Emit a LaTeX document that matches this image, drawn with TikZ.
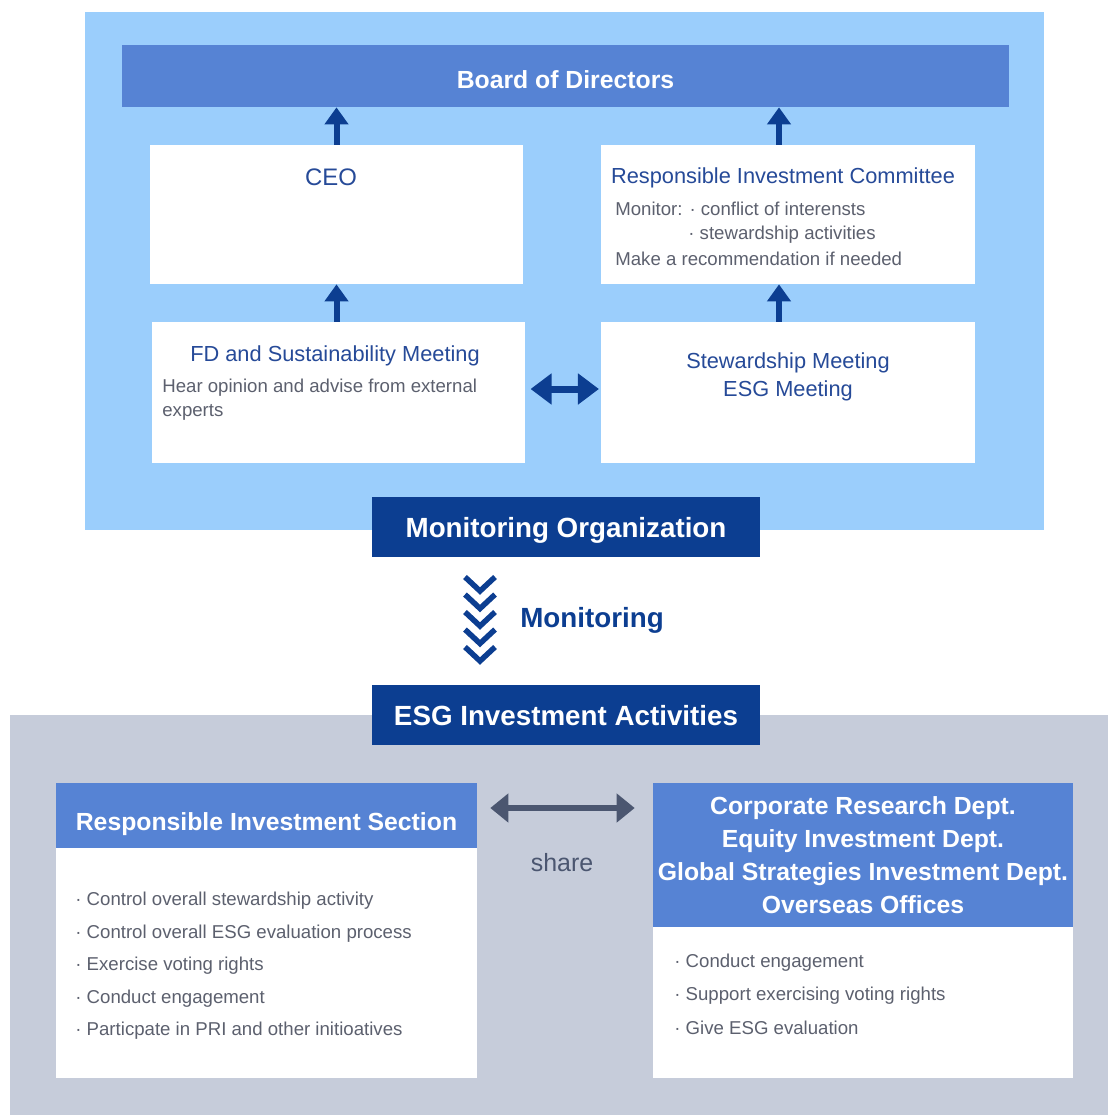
\documentclass[tikz,border=0pt]{standalone}
\usepackage{fontspec}
\setmainfont{Liberation Sans}
\usetikzlibrary{positioning, arrows.meta, calc}

\definecolor{skyback}{RGB}{155,206,252}
\definecolor{greyback}{RGB}{198,204,218}
\definecolor{midblue}{RGB}{86,131,212}
\definecolor{navy}{RGB}{12,62,145}
\definecolor{titleblue}{RGB}{38,74,152}
\definecolor{bodygrey}{RGB}{92,96,110}
\definecolor{slate}{RGB}{75,86,112}

\begin{document}
\begin{tikzpicture}[x=0.02cm, y=-0.02cm,
    panel/.style={rectangle, fill=white, inner sep=0pt},
    bar/.style={rectangle, fill=midblue, inner sep=0pt, text=white, align=center, text depth=0pt, font=\fontsize{14.1}{18.7}\selectfont\bfseries},
    banner/.style={rectangle, fill=navy, inner sep=0pt, text=white, text depth=0pt, font=\fontsize{15.8}{19}\selectfont\bfseries},
    ttl/.style={inner sep=0pt, text=titleblue, font=\fontsize{12.4}{15}\selectfont},
    txt/.style={inner sep=0pt, anchor=west, text=bodygrey, font=\fontsize{10.6}{13}\selectfont},
    uparrow/.style={navy, line width=0.12cm, -{Triangle[width=0.46cm, length=0.34cm]}},
    twoway/.style={navy, line width=0.14cm, {Triangle[width=0.6cm, length=0.42cm]}-{Triangle[width=0.6cm, length=0.42cm]}, shorten <=3pt, shorten >=1pt},
    sharearrow/.style={slate, line width=0.12cm, {Triangle[width=0.56cm, length=0.36cm]}-{Triangle[width=0.56cm, length=0.36cm]}, shorten <=0.26cm, shorten >=0.36cm},
    chevron/.style={navy, line width=0.11cm, line join=miter},
]
\useasboundingbox (0,0) rectangle (1108,1115);

% Backgrounds
\fill[skyback] (85,12) rectangle (1044,530);
\fill[greyback] (10,715) rectangle (1108,1115);

% Monitoring organization
\node (board) [bar, text height=13.7pt, minimum width=17.74cm, minimum height=1.24cm] at (565.5,76) {Board of Directors};
\node (ceo) [panel, minimum width=7.46cm, minimum height=2.78cm] at (336.5,214.5) {};
\node (ric) [panel, minimum width=7.48cm, minimum height=2.78cm] at (788,214.5) {};
\node (fdmeet) [panel, minimum width=7.46cm, minimum height=2.82cm] at (338.5,392.5) {};
\node (stewmeet) [panel, minimum width=7.48cm, minimum height=2.82cm] at (788,392.5) {};

\node (ceottl) [ttl, font=\fontsize{13.6}{16}\selectfont] at (331,177) {CEO};
\node (ricttl) [ttl] at (783,178) {Responsible Investment Committee};
\node (ric1) [txt] at (615,209) {Monitor: · conflict of interensts};
\node (ric2) [txt] at (688,235) {· stewardship activities};
\node (ric3) [txt] at (615,259) {Make a recommendation if needed};
\node (fdttl) [ttl] at (335,356) {FD and Sustainability Meeting};
\node (fd1) [txt] at (162,388) {Hear opinion and advise from external};
\node (fd2) [txt] at (162,412) {experts};
\node (stewttl) [ttl] at (788,363) {Stewardship Meeting};
\node (esgttl) [ttl] at (788,391) {ESG Meeting};

\draw [uparrow] (ceo.north) -- (ceo.north |- board.south);
\draw [uparrow] ([xshift=-0.18cm]ric.north) -- ([xshift=-0.18cm]ric.north |- board.south);
\draw [uparrow] (fdmeet.north -| ceo.north) -- (ceo.south);
\draw [uparrow] ([xshift=-0.18cm]stewmeet.north) -- ([xshift=-0.18cm]ric.south);
\draw [twoway] ([yshift=0.07cm]fdmeet.east) -- ([yshift=0.07cm]fdmeet.east -| stewmeet.west);

\node (monorg) [banner, minimum width=7.76cm, minimum height=1.2cm] at (566,527) {Monitoring Organization};

% Monitoring chevrons
\coordinate (chevtop) at (480,577);
\foreach \k in {0,...,4}
  \draw [chevron] ([shift={(-15,17.5*\k)}]chevtop) -- ++(15,14) -- ++(15,-14);
\node (monlbl) [inner sep=0pt, text=navy, font=\fontsize{15.8}{19}\selectfont\bfseries] at (592,620) {Monitoring};

% ESG investment activities
\node (esgact) [banner, minimum width=7.76cm, minimum height=1.2cm] at (566,715) {ESG Investment Activities};

\node (risbody) [panel, minimum width=8.42cm, minimum height=4.6cm] at (266.5,963) {};
\node (rishead) [bar, text height=16.5pt, minimum width=8.42cm, minimum height=1.3cm] at (266.5,815.5) {Responsible Investment Section};
\foreach \t [count=\i] in {Control overall stewardship activity, Control overall ESG evaluation process, Exercise voting rights, Conduct engagement, Particpate in PRI and other initioatives}
  \node (ris\i) [txt] at (75,{901+32.5*(\i-1)}) {· \t};

\node (deptbody) [panel, minimum width=8.4cm, minimum height=3.02cm] at (863,1002.5) {};
\node (depthead) [bar, minimum width=8.4cm, minimum height=2.88cm] at (863,855) {Corporate Research Dept.\\Equity Investment Dept.\\Global Strategies Investment Dept.\\Overseas Offices};
\foreach \t [count=\i] in {Conduct engagement, Support exercising voting rights, Give ESG evaluation}
  \node (dept\i) [txt] at (674,{963+32.5*(\i-1)}) {· \t};

\draw [sharearrow] ([yshift=0.15cm]rishead.east) -- ([yshift=0.15cm]rishead.east -| depthead.west);
\node (sharelbl) [inner sep=0pt, text=slate, font=\fontsize{14.2}{17}\selectfont] at (562,863) {share};

\end{tikzpicture}
\end{document}
